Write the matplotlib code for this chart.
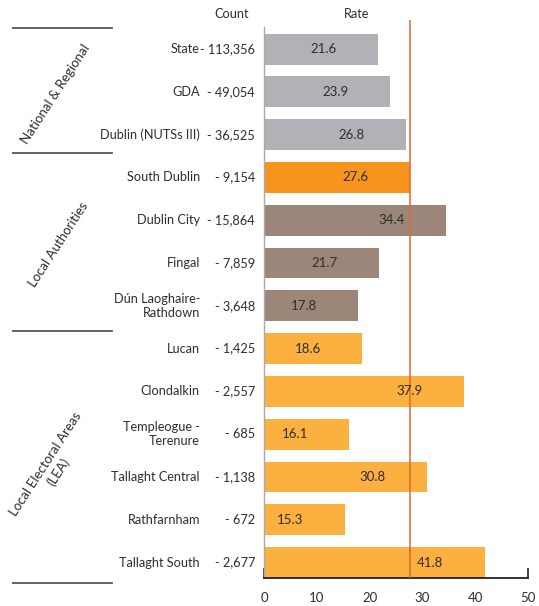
import matplotlib
matplotlib.use("Agg")
import matplotlib.pyplot as plt

names = ["State", "GDA", "Dublin (NUTSs III)", "South Dublin", "Dublin City", "Fingal",
         "Dún Laoghaire-\nRathdown", "Lucan", "Clondalkin", "Templeogue -\nTerenure",
         "Tallaght Central", "Rathfarnham", "Tallaght South"]
counts = ["- 113,356", "- 49,054", "- 36,525", "- 9,154", "- 15,864", "- 7,859", "- 3,648",
          "- 1,425", "- 2,557", "- 685", "- 1,138", "- 672", "- 2,677"]
rates = [21.6, 23.9, 26.8, 27.6, 34.4, 21.7, 17.8, 18.6, 37.9, 16.1, 30.8, 15.3, 41.8]
groups = ["nat", "nat", "nat", "sd", "la", "la", "la", "lea", "lea", "lea", "lea", "lea", "lea"]
group_titles = ["National & Regional", "Local Authorities", "Local Electoral Areas\n(LEA)"]
reference_rate = 27.6
xticks = [0, 10, 20, 30, 40, 50]

colors = {"nat": "#b1b2b5", "sd": "#f7941e", "la": "#9c8679", "lea": "#fbb040"}
plt.rcParams['font.family'] = ['Lato', 'DejaVu Sans']
txt = "#2e2e2e"

W, H = 539, 606
fig = plt.figure(figsize=(W / 100, H / 100), dpi=100)
ax = fig.add_axes([264 / W, 1 - 578 / H, (528 - 264) / W, (578 - 20) / H])

n = len(rates)
ys = list(range(n))
ax.barh(ys, rates, height=0.72, color=[colors[g] for g in groups], zorder=2)
ax.set_xlim(0, 50)
ax.set_ylim(n - 1 + 0.36, -0.68)
ax.axvline(reference_rate, color="#d9683a", lw=1.1, zorder=3)

for y, r in zip(ys, rates):
    ax.text(r - 10.3, y, f"{r}", ha="center", va="center", fontsize=9.5, color=txt, zorder=4)

ax.set_xticks(xticks)
ax.set_xticklabels([str(t) for t in xticks], fontsize=9.5, color=txt)
ax.tick_params(axis="x", direction="in", length=7, width=1.2, color="#222222", pad=10)
ax.set_yticks([])
for s in ["top", "right"]:
    ax.spines[s].set_visible(False)
ax.spines["bottom"].set_color("#222222")
ax.spines["bottom"].set_linewidth(1.3)
ax.spines["left"].set_color("#aaaaaa")
ax.spines["left"].set_linewidth(1.0)
ax.spines["left"].set_bounds(n - 1 + 0.36, -0.51)

# text in figure pixel coordinates
def fx(px):
    return px / W

def fy(py):
    return 1 - py / H

for y, nm, c in zip(ys, names, counts):
    ypix = ax.transData.transform((0, y))[1]
    yf = ypix / fig.bbox.height
    fig.text(fx(200), yf, nm, ha="right", va="center", fontsize=9.2, color=txt,
             multialignment="right", linespacing=1.25)
    fig.text(fx(255), yf, c, ha="right", va="center", fontsize=9.2, color=txt)

fig.text(fx(232), fy(14), "Count", ha="center", va="center", fontsize=9.2, color=txt)
fig.text(fx(357), fy(14), "Rate", ha="center", va="center", fontsize=9.2, color=txt)

for py in [28, 153, 331, 583]:
    fig.add_artist(plt.Line2D([fx(13), fx(112)], [fy(py), fy(py)], color="#555555", lw=1.3))

for title, (cx, cy) in zip(group_titles, [(56, 94), (58, 245), (52, 468)]):
    fig.text(fx(cx), fy(cy), title, ha="center", va="center", rotation=57, fontsize=9.5,
             color=txt, rotation_mode="anchor", multialignment="center")

fig.savefig("out.png", dpi=100)
